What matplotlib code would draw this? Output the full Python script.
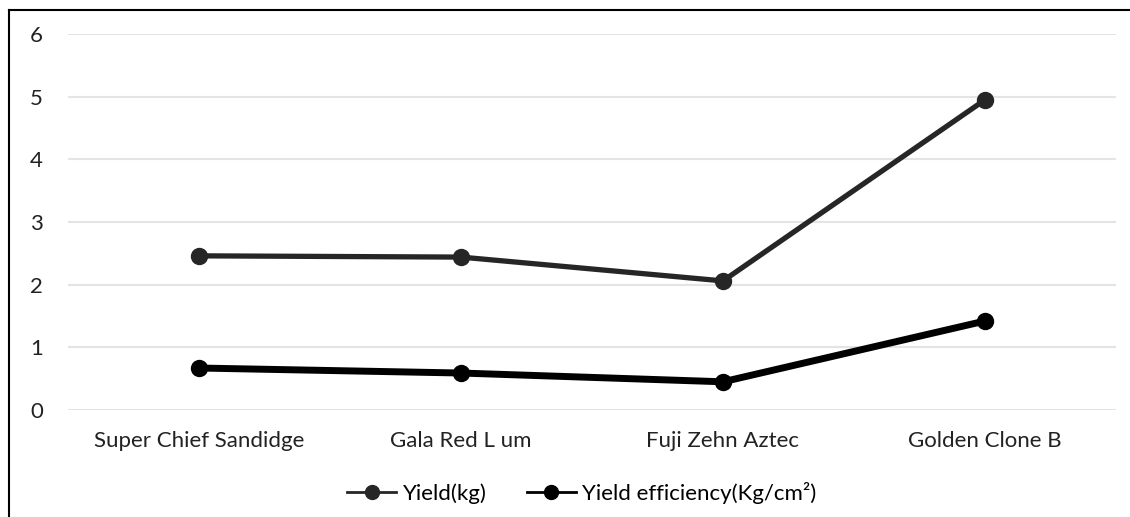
import matplotlib
matplotlib.use("Agg")
import matplotlib.pyplot as plt
from matplotlib.lines import Line2D

categories = ["Super Chief Sandidge", "Gala Red L um", "Fuji Zehn Aztec", "Golden Clone B"]
yield_kg = [2.46, 2.44, 2.06, 4.95]
yield_eff = [0.67, 0.59, 0.45, 1.42]
yticks = [0, 1, 2, 3, 4, 5, 6]

plt.rcParams['font.family'] = ['Lato', 'DejaVu Sans']

fig = plt.figure(figsize=(11.3, 5.17), dpi=100)
ax = fig.add_axes([68/1130, 1 - 410/517, (1116-68)/1130, (410-34)/517])

x = list(range(len(categories)))
ax.plot(x, yield_kg, color='#262626', lw=3.8, marker='o', ms=11.5, label='Yield(kg)', zorder=3)
ax.plot(x, yield_eff, color='#000000', lw=5, marker='o', ms=11.5, label='Yield efficiency(Kg/cm²)', zorder=3)

ax.set_xlim(-0.5, len(categories) - 0.5)
ax.set_ylim(0, 6)
ax.set_yticks(yticks)
ax.set_xticks(x)
ax.set_xticklabels(categories)
ax.grid(axis='y', color='#e4e4e4', lw=1.5)
ax.set_axisbelow(True)
for s in ax.spines.values():
    s.set_visible(False)
ax.tick_params(length=0, labelsize=16, colors='#222222')
ax.tick_params(axis='y', pad=18)
ax.tick_params(axis='x', pad=15)

handles = [Line2D([], [], color='#262626', lw=2, marker='o', ms=10),
           Line2D([], [], color='#000000', lw=2, marker='o', ms=10)]
fig.legend(handles, ['Yield(kg)', 'Yield efficiency(Kg/cm²)'], loc='center',
           bbox_to_anchor=(0.515, 1 - 493/517), ncol=2, frameon=False,
           fontsize=16, handlelength=2.2, columnspacing=1.8, handletextpad=0.3)

# figure frame (left and top)
fig.add_artist(Line2D([9/1130, 9/1130], [0, 1 - 10/517], color='black', lw=1.5, transform=fig.transFigure))
fig.add_artist(Line2D([9/1130, 1], [1 - 10/517, 1 - 10/517], color='black', lw=1.5, transform=fig.transFigure))

fig.savefig('out.png', dpi=100)
